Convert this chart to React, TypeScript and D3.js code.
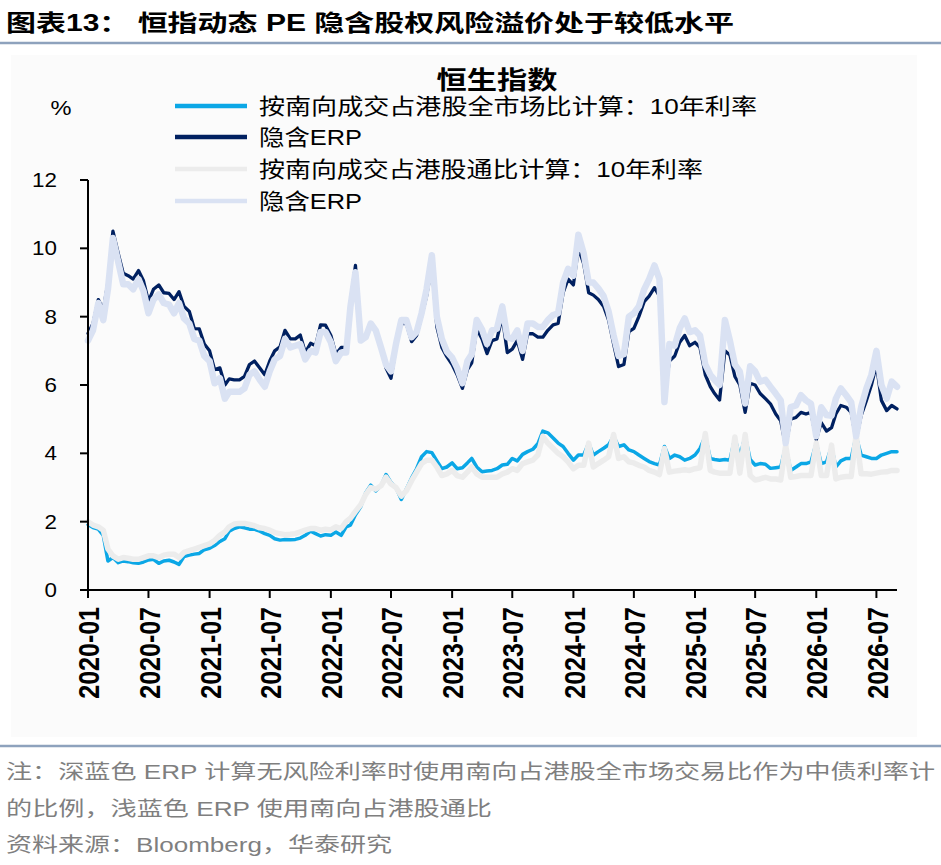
import React from 'react';
import * as d3 from 'd3';

// Half-monthly observation dates
const dates: string[] = [
  '2020-01-01','2020-01-16','2020-02-01','2020-02-16','2020-03-01','2020-03-16','2020-04-01','2020-04-16','2020-05-01','2020-05-16',
  '2020-06-01','2020-06-16','2020-07-01','2020-07-16','2020-08-01','2020-08-16','2020-09-01','2020-09-16','2020-10-01','2020-10-16',
  '2020-11-01','2020-11-16','2020-12-01','2020-12-16','2021-01-01','2021-01-16','2021-02-01','2021-02-16','2021-03-01','2021-03-16',
  '2021-04-01','2021-04-16','2021-05-01','2021-05-16','2021-06-01','2021-06-16','2021-07-01','2021-07-16','2021-08-01','2021-08-16',
  '2021-09-01','2021-09-16','2021-10-01','2021-10-16','2021-11-01','2021-11-16','2021-12-01','2021-12-16','2022-01-01','2022-01-16',
  '2022-02-01','2022-02-16','2022-03-01','2022-03-16','2022-04-01','2022-04-16','2022-05-01','2022-05-16','2022-06-01','2022-06-16',
  '2022-07-01','2022-07-16','2022-08-01','2022-08-16','2022-09-01','2022-09-16','2022-10-01','2022-10-16','2022-11-01','2022-11-16',
  '2022-12-01','2022-12-16','2023-01-01','2023-01-16','2023-02-01','2023-02-16','2023-03-01','2023-03-16','2023-04-01','2023-04-16',
  '2023-05-01','2023-05-16','2023-06-01','2023-06-16','2023-07-01','2023-07-16','2023-08-01','2023-08-16','2023-09-01','2023-09-16',
  '2023-10-01','2023-10-16','2023-11-01','2023-11-16','2023-12-01','2023-12-16','2024-01-01','2024-01-16','2024-02-01','2024-02-16',
  '2024-03-01','2024-03-16','2024-04-01','2024-04-16','2024-05-01','2024-05-16','2024-06-01','2024-06-16','2024-07-01','2024-07-16',
  '2024-08-01','2024-08-16','2024-09-01','2024-09-16','2024-10-01','2024-10-16','2024-11-01','2024-11-16','2024-12-01','2024-12-16',
  '2025-01-01','2025-01-16','2025-02-01','2025-02-16','2025-03-01','2025-03-16','2025-04-01','2025-04-16','2025-05-01','2025-05-16',
  '2025-06-01','2025-06-16','2025-07-01','2025-07-16','2025-08-01','2025-08-16','2025-09-01','2025-09-16','2025-10-01','2025-10-16',
  '2025-11-01','2025-11-16','2025-12-01','2025-12-16','2026-01-01','2026-01-16','2026-02-01','2026-02-16','2026-03-01','2026-03-16',
  '2026-04-01','2026-04-16','2026-05-01','2026-05-16','2026-06-01','2026-06-16','2026-07-01','2026-07-16','2026-08-01','2026-08-16',
  '2026-09-01',
];

// 按南向成交占港股全市场比计算：10年利率 (light blue)
const rateAllMarket: number[] = [
  1.92, 1.83, 1.78, 1.6, 0.85, 0.95, 0.8, 0.85, 0.83, 0.8,
  0.78, 0.82, 0.88, 0.9, 0.78, 0.85, 0.87, 0.82, 0.75, 0.98,
  1.02, 1.05, 1.07, 1.18, 1.22, 1.3, 1.42, 1.5, 1.72, 1.8,
  1.85, 1.82, 1.78, 1.78, 1.72, 1.65, 1.6, 1.5, 1.46, 1.48,
  1.47, 1.48, 1.52, 1.6, 1.72, 1.65, 1.58, 1.62, 1.6, 1.7,
  1.6, 1.85, 1.9, 2.2, 2.44, 2.85, 3.07, 2.9, 3.05, 3.38,
  3.15, 3.0, 2.65, 2.95, 3.28, 3.55, 3.9, 4.05, 4.02, 3.78,
  3.55, 3.6, 3.72, 3.55, 3.58, 3.72, 3.85, 3.6, 3.46, 3.48,
  3.5, 3.55, 3.66, 3.68, 3.85, 3.78, 3.97, 4.05, 4.12, 4.28,
  4.65, 4.6, 4.45, 4.3, 4.2, 4.0, 3.8, 3.95, 3.95, 4.3,
  3.95, 4.05, 4.15, 4.25, 4.5, 4.2, 4.25, 4.1, 4.05, 3.95,
  3.85, 3.76, 3.7, 3.66, 4.2, 3.85, 3.95, 3.9, 3.8, 3.85,
  3.95, 4.14, 4.5, 3.85, 3.82, 3.8, 3.82, 3.8, 4.45, 3.9,
  4.5, 3.82, 3.66, 3.7, 3.68, 3.56, 3.58, 3.6, 4.2, 3.5,
  3.6, 3.7, 3.7, 3.75, 4.3, 3.7, 3.75, 4.2, 3.6, 3.78,
  3.85, 3.85, 4.5, 3.95, 3.9, 3.85, 3.85, 3.95, 4.0, 4.05, 4.05,
];

// 隐含ERP (dark navy)
const erpAllMarket: number[] = [
  7.51, 7.8, 8.5, 8.2, 9.0, 10.5, 9.85, 9.27, 9.2, 9.1,
  9.35, 9.05, 8.45, 8.8, 8.93, 8.7, 8.68, 8.5, 8.73, 8.3,
  8.15, 7.65, 7.64, 7.2, 7.0, 6.45, 6.5, 6.0, 6.18, 6.15,
  6.15, 6.25, 6.6, 6.7, 6.5, 6.3, 6.7, 7.0, 7.12, 7.6,
  7.35, 7.35, 7.46, 6.95, 7.22, 7.15, 7.76, 7.75, 7.45, 6.9,
  7.1, 7.1, 8.44, 9.5, 7.4, 7.45, 7.8, 7.6, 7.05, 6.5,
  6.2, 7.1, 7.8, 7.8, 7.27, 7.45, 8.0, 8.6, 9.5, 7.7,
  7.1, 6.83, 6.6, 6.3, 5.9, 6.45, 6.65, 7.65, 7.35, 6.92,
  7.3, 7.35, 8.0, 6.95, 7.05, 7.3, 6.75, 7.5, 7.5, 7.4,
  7.4, 7.6, 7.76, 7.8, 8.7, 9.1, 8.93, 10.0, 9.55, 8.7,
  8.63, 8.5, 8.3, 7.9, 7.2, 6.54, 6.6, 7.56, 7.66, 8.0,
  8.44, 8.6, 8.85, 8.6, 5.7, 6.7, 6.85, 7.25, 7.45, 7.15,
  7.25, 7.1, 6.3, 5.95, 5.75, 5.56, 7.0, 6.88, 6.25, 6.0,
  5.2, 6.05, 6.0, 5.75, 5.6, 5.45, 5.15, 4.95, 4.2, 5.0,
  5.05, 5.2, 5.15, 5.2, 4.4, 4.9, 4.65, 4.75, 5.15, 5.4,
  5.35, 5.2, 4.4, 5.1, 5.55, 6.0, 6.6, 5.55, 5.25, 5.4, 5.3,
];

// 按南向成交占港股通比计算：10年利率 (light grey)
const rateConnect: number[] = [
  2.0, 1.9, 1.85, 1.75, 1.2, 1.0, 0.9, 0.95, 0.93, 0.9,
  0.9, 0.95, 1.0, 1.0, 0.95, 1.02, 1.05, 1.05, 0.95, 1.1,
  1.15, 1.2, 1.25, 1.3, 1.35, 1.45, 1.6, 1.7, 1.85, 1.93,
  1.95, 1.95, 1.92, 1.88, 1.82, 1.8, 1.75, 1.68, 1.65, 1.62,
  1.63, 1.65, 1.7, 1.75, 1.8, 1.8, 1.75, 1.78, 1.76, 1.85,
  1.8, 2.0, 2.1, 2.3, 2.5, 2.8, 3.0, 2.95, 3.05, 3.3,
  3.1, 3.0, 2.75, 2.9, 3.2, 3.45, 3.7, 3.8, 3.8, 3.6,
  3.35, 3.4, 3.5, 3.35, 3.3, 3.45, 3.6, 3.4, 3.3, 3.3,
  3.3, 3.3, 3.4, 3.45, 3.55, 3.5, 3.7, 3.75, 3.8, 3.95,
  4.5, 4.3, 4.15, 4.0, 3.9, 3.75, 3.55, 3.65, 3.65, 4.3,
  3.6, 3.7, 3.8, 3.9, 4.55, 3.85, 3.9, 3.75, 3.72, 3.65,
  3.6, 3.5, 3.45, 3.38, 4.14, 3.45, 3.48, 3.5, 3.52, 3.5,
  3.55, 3.58, 4.58, 3.5, 3.45, 3.42, 3.42, 3.42, 4.48, 3.42,
  4.55, 3.35, 3.22, 3.25, 3.3, 3.25, 3.25, 3.22, 4.24, 3.3,
  3.32, 3.35, 3.35, 3.35, 4.3, 3.35, 3.35, 4.24, 3.25, 3.3,
  3.32, 3.32, 4.55, 3.4, 3.4, 3.39, 3.42, 3.45, 3.46, 3.5, 3.5,
];

// 隐含ERP (light lavender)
const erpConnect: number[] = [
  7.3, 7.6, 8.4, 7.9, 8.8, 10.3, 9.6, 8.95, 8.95, 8.8,
  9.1, 8.75, 8.1, 8.5, 8.65, 8.4, 8.35, 8.1, 8.4, 7.95,
  7.8, 7.35, 7.3, 6.85, 6.7, 6.05, 6.2, 5.6, 5.8, 5.8,
  5.8, 5.9, 6.3, 6.4, 6.15, 5.95, 6.4, 6.75, 6.85, 7.35,
  7.1, 7.15, 7.2, 6.75, 7.0, 6.95, 7.55, 7.55, 7.25, 6.7,
  6.95, 6.95, 8.3, 9.3, 7.3, 7.4, 7.8, 7.6, 7.1, 6.6,
  6.4, 7.2, 7.9, 7.9, 7.4, 7.55, 8.1, 8.8, 9.8, 8.0,
  7.35, 6.98, 6.8, 6.5, 6.05, 6.7, 6.9, 7.9, 7.62, 7.2,
  7.6, 7.65, 8.3, 7.4, 7.35, 7.6, 7.0, 7.8, 7.8, 7.7,
  7.7, 7.9, 8.05, 8.1, 9.0, 9.4, 9.2, 10.4, 9.85, 9.0,
  9.0, 8.83, 8.6, 8.15, 7.45, 6.85, 6.9, 8.0, 8.1, 8.3,
  8.8, 9.1, 9.5, 9.1, 5.5, 7.2, 7.15, 7.66, 7.95, 7.55,
  7.6, 7.45, 6.6, 6.3, 6.15, 6.0, 7.9, 7.3, 6.6, 6.39,
  5.46, 6.55, 6.4, 6.1, 6.15, 5.95, 5.75, 5.55, 4.3, 5.35,
  5.4, 5.7, 5.55, 5.45, 4.5, 5.35, 5.12, 5.1, 5.6, 5.9,
  5.7, 5.5, 4.5, 5.35, 5.9, 6.3, 7.0, 6.0, 5.6, 6.1, 5.95,
];

const xTickLabels: string[] = [
  '2020-01','2020-07','2021-01','2021-07','2022-01','2022-07','2023-01',
  '2023-07','2024-01','2024-07','2025-01','2025-07','2026-01','2026-07',
];
const yTickValues: number[] = [0, 2, 4, 6, 8, 10, 12];

const legendLabels: string[] = [
  '按南向成交占港股全市场比计算：10年利率',
  '隐含ERP',
  '按南向成交占港股通比计算：10年利率',
  '隐含ERP',
];

const titleText = '图表13：  恒指动态 PE 隐含股权风险溢价处于较低水平';
const chartTitle = '恒生指数';
const yUnit = '%';
const footnotes: string[] = [
  '注：深蓝色 ERP 计算无风险利率时使用南向占港股全市场交易比作为中债利率计',
  '的比例，浅蓝色 ERP 使用南向占港股通比',
  '资料来源：Bloomberg，华泰研究',
];

const FONT = "'Liberation Sans', Arial, 'Noto Sans CJK SC', sans-serif";

export default function App() {
  const W = 941;
  const H = 865;
  const parse = d3.timeParse('%Y-%m-%d');
  const parseMonth = d3.timeParse('%Y-%m');
  const dateObjs = dates.map((d) => parse(d) as Date);

  const x = d3
    .scaleTime()
    .domain([parse('2020-01-01') as Date, parse('2026-09-01') as Date])
    .range([88, 897]);
  const y = d3.scaleLinear().domain([0, 12]).range([590, 180]);

  const line = d3
    .line<number>()
    .x((_, i) => x(dateObjs[i]))
    .y((v) => y(v))
    .curve(d3.curveLinear);

  const series = [
    { values: rateAllMarket, color: '#0BA7E6', width: 3.5, legendWidth: 4.5 },
    { values: erpAllMarket, color: '#002060', width: 3.3, legendWidth: 4.5 },
    { values: rateConnect, color: '#ECECEC', width: 5.5, legendWidth: 4.5 },
    { values: erpConnect, color: '#DAE2F3', width: 6.5, legendWidth: 4.5 },
  ];

  const legendY = [106, 137, 169, 201];
  const legendLen = [498, 103, 444, 103];
  const xTicks = xTickLabels.map((l) => parseMonth(l) as Date);

  return (
    <svg
      width={W}
      height={H}
      viewBox={`0 0 ${W} ${H}`}
      style={{ position: 'absolute', left: 0, top: 0, background: '#fff' }}
      fontFamily={FONT}
    >
      <rect x={0} y={0} width={W} height={H} fill="#ffffff" />
      <rect x={11} y={55} width={906} height={682} fill="#fbfbfb" />

      {/* Header */}
      <text
        x={6}
        y={23}
        fontSize={23}
        fontWeight="bold"
        fill="#000"
        dominantBaseline="central"
        textLength={728}
        lengthAdjust="spacingAndGlyphs"
      >
        {titleText}
      </text>
      <line x1={0} x2={W} y1={43} y2={43} stroke="#8EA2BD" strokeWidth={2.5} />

      {/* Chart title */}
      <text
        x={497}
        y={80}
        fontSize={25}
        fontWeight="bold"
        textAnchor="middle"
        dominantBaseline="central"
        textLength={121}
        lengthAdjust="spacingAndGlyphs"
        fill="#000"
      >
        {chartTitle}
      </text>

      {/* Unit */}
      <text
        transform={`translate(61,108) scale(1.18,1)`}
        fontSize={20}
        textAnchor="middle"
        dominantBaseline="central"
        fill="#000"
      >
        {yUnit}
      </text>

      {/* Legend */}
      {series.map((s, i) => (
        <g key={`lg${i}`}>
          <line
            x1={175}
            x2={247}
            y1={legendY[i]}
            y2={legendY[i]}
            stroke={s.color}
            strokeWidth={s.legendWidth}
          />
          <text
            x={259}
            y={legendY[i]}
            fontSize={22}
            dominantBaseline="central"
            textLength={legendLen[i]}
            lengthAdjust="spacingAndGlyphs"
            fill="#000"
          >
            {legendLabels[i]}
          </text>
        </g>
      ))}

      {/* Series */}
      {series.map((s, i) => (
        <path
          key={`s${i}`}
          d={line(s.values) || ''}
          fill="none"
          stroke={s.color}
          strokeWidth={s.width}
          strokeLinejoin="round"
          strokeLinecap="round"
        />
      ))}

      {/* Y axis */}
      <line x1={88} x2={88} y1={y(12)} y2={y(0)} stroke="#000" strokeWidth={2} />
      {yTickValues.map((v) => (
        <g key={`yt${v}`}>
          <line x1={80} x2={88} y1={y(v)} y2={y(v)} stroke="#000" strokeWidth={2} />
          <text
            transform={`translate(57,${y(v)}) scale(1.12,1)`}
            fontSize={20}
            textAnchor="end"
            dominantBaseline="central"
            fill="#000"
          >
            {v}
          </text>
        </g>
      ))}

      {/* X axis */}
      <line x1={88} x2={897} y1={y(0)} y2={y(0)} stroke="#000" strokeWidth={2} />
      {xTicks.map((d, i) => (
        <g key={`xt${i}`}>
          <line x1={x(d)} x2={x(d)} y1={y(0)} y2={y(0) + 8} stroke="#000" strokeWidth={2} />
          <text
            transform={`translate(${x(d) + 1},607) scale(1.17,1) rotate(-90)`}
            fontSize={25}
            fontWeight="bold"
            textAnchor="end"
            dominantBaseline="central"
            fill="#000"
          >
            {xTickLabels[i]}
          </text>
        </g>
      ))}

      {/* Footer */}
      <line x1={0} x2={W} y1={746} y2={746} stroke="#8EA2BD" strokeWidth={2.5} />
      {footnotes.map((t, i) => (
        <text
          key={`fn${i}`}
          x={6}
          y={772 + i * 36.5}
          fontSize={20}
          dominantBaseline="central"
          textLength={[929, 486, 386][i]}
          lengthAdjust="spacingAndGlyphs"
          fill="#7F7F7F"
        >
          {t}
        </text>
      ))}
    </svg>
  );
}
